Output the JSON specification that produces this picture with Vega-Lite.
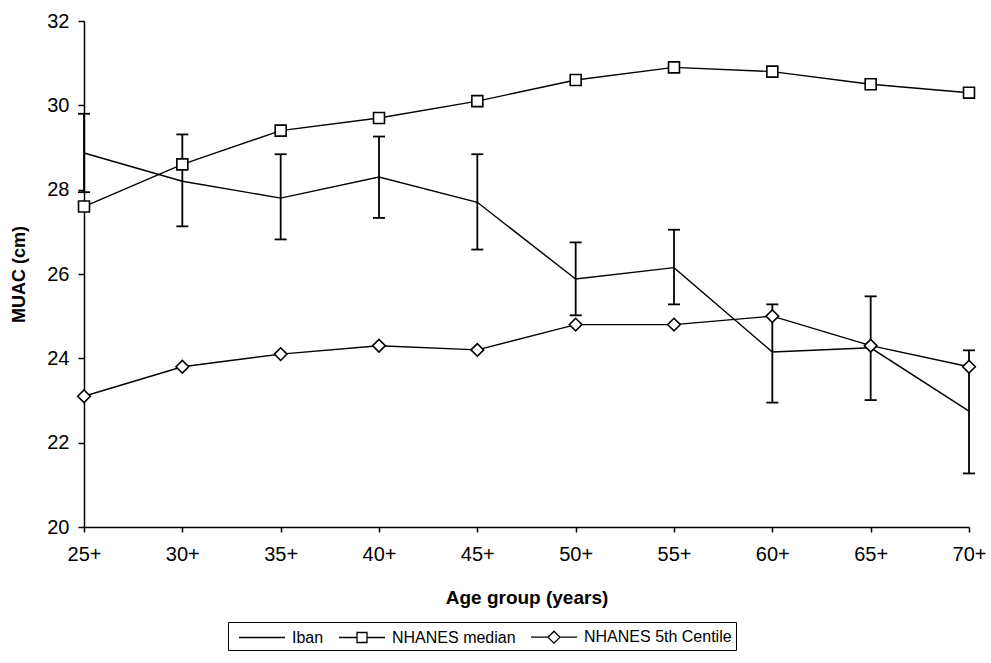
{
  "$schema": "https://vega.github.io/schema/vega-lite/v6.json",
  "width": 885,
  "height": 506,
  "autosize": "none",
  "padding": {"left": 84, "top": 21, "right": 22, "bottom": 136},
  "background": "white",
  "config": {
    "view": {"stroke": null},
    "font": "Liberation Sans",
    "axis": {"domainColor": "black", "domainWidth": 1.5, "tickColor": "black", "tickWidth": 1.5, "labelColor": "black", "titleColor": "black", "grid": false, "labelFont": "Liberation Sans", "titleFont": "Liberation Sans"}
  },
  "data": {
    "values": [
      {"age": "25+", "series": "Iban", "value": 28.87, "lo": 27.94, "hi": 29.8},
      {"age": "30+", "series": "Iban", "value": 28.2, "lo": 27.13, "hi": 29.31},
      {"age": "35+", "series": "Iban", "value": 27.8, "lo": 26.82, "hi": 28.84},
      {"age": "40+", "series": "Iban", "value": 28.3, "lo": 27.33, "hi": 29.26},
      {"age": "45+", "series": "Iban", "value": 27.7, "lo": 26.58, "hi": 28.84},
      {"age": "50+", "series": "Iban", "value": 25.88, "lo": 25.02, "hi": 26.75},
      {"age": "55+", "series": "Iban", "value": 26.15, "lo": 25.28, "hi": 27.05},
      {"age": "60+", "series": "Iban", "value": 24.15, "lo": 22.95, "hi": 25.28},
      {"age": "65+", "series": "Iban", "value": 24.25, "lo": 23.01, "hi": 25.47},
      {"age": "70+", "series": "Iban", "value": 22.75, "lo": 21.27, "hi": 24.19},
      {"age": "25+", "series": "NHANES median", "value": 27.6},
      {"age": "30+", "series": "NHANES median", "value": 28.6},
      {"age": "35+", "series": "NHANES median", "value": 29.4},
      {"age": "40+", "series": "NHANES median", "value": 29.7},
      {"age": "45+", "series": "NHANES median", "value": 30.1},
      {"age": "50+", "series": "NHANES median", "value": 30.6},
      {"age": "55+", "series": "NHANES median", "value": 30.9},
      {"age": "60+", "series": "NHANES median", "value": 30.8},
      {"age": "65+", "series": "NHANES median", "value": 30.5},
      {"age": "70+", "series": "NHANES median", "value": 30.3},
      {"age": "25+", "series": "NHANES 5th Centile", "value": 23.1},
      {"age": "30+", "series": "NHANES 5th Centile", "value": 23.8},
      {"age": "35+", "series": "NHANES 5th Centile", "value": 24.1},
      {"age": "40+", "series": "NHANES 5th Centile", "value": 24.3},
      {"age": "45+", "series": "NHANES 5th Centile", "value": 24.2},
      {"age": "50+", "series": "NHANES 5th Centile", "value": 24.8},
      {"age": "55+", "series": "NHANES 5th Centile", "value": 24.8},
      {"age": "60+", "series": "NHANES 5th Centile", "value": 25.0},
      {"age": "65+", "series": "NHANES 5th Centile", "value": 24.3},
      {"age": "70+", "series": "NHANES 5th Centile", "value": 23.8}
    ]
  },
  "encoding": {
    "x": {
      "field": "age", "type": "ordinal", "sort": null,
      "scale": {"type": "point", "padding": 0},
      "axis": {"title": "Age group (years)", "labelAngle": 0, "labelFontSize": 20, "labelPadding": 12, "tickSize": 5, "titleFontSize": 19, "titleFontWeight": "bold", "titlePadding": 24}
    }
  },
  "layer": [
    {
      "mark": {"type": "line", "color": "black", "strokeWidth": 1.4},
      "encoding": {
        "y": {"field": "value", "type": "quantitative", "scale": {"domain": [20, 32], "nice": false, "zero": false},
          "axis": {"title": "MUAC (cm)", "values": [20, 22, 24, 26, 28, 30, 32], "labelFontSize": 20, "labelPadding": 9, "tickSize": 6, "titleFontSize": 18, "titleFontWeight": "bold", "titlePadding": 18}},
        "detail": {"field": "series"}
      }
    },
    {
      "transform": [{"filter": "datum.hi != null"}],
      "mark": {"type": "rule", "color": "black", "strokeWidth": 1.8},
      "encoding": {
        "y": {"field": "lo", "type": "quantitative"},
        "y2": {"field": "hi"}
      }
    },
    {
      "transform": [{"filter": "datum.lo != null"}],
      "mark": {"type": "tick", "color": "black", "size": 12, "thickness": 1.8, "opacity": 1},
      "encoding": {"y": {"field": "lo", "type": "quantitative"}}
    },
    {
      "transform": [{"filter": "datum.hi != null"}],
      "mark": {"type": "tick", "color": "black", "size": 12, "thickness": 1.8, "opacity": 1},
      "encoding": {"y": {"field": "hi", "type": "quantitative"}}
    },
    {
      "transform": [{"filter": "datum.series != 'Iban'"}],
      "mark": {"type": "point", "filled": false, "fill": "white", "fillOpacity": 1, "stroke": "black", "strokeWidth": 1.6, "opacity": 1},
      "encoding": {
        "y": {"field": "value", "type": "quantitative"},
        "shape": {"field": "series", "type": "nominal",
          "scale": {"domain": ["NHANES median", "NHANES 5th Centile"], "range": ["square", "diamond"]}, "legend": null},
        "size": {"field": "series", "type": "nominal",
          "scale": {"domain": ["NHANES median", "NHANES 5th Centile"], "range": [120, 160]}, "legend": null}
      }
    },
    {
      "mark": {"type": "point", "opacity": 0, "filled": false},
      "encoding": {
        "y": {"field": "value", "type": "quantitative"},
        "shape": {"field": "series", "type": "nominal",
          "scale": {"domain": ["Iban", "NHANES median", "NHANES 5th Centile"],
            "range": ["M-0.4,0H4.2", "M-0.4,0H1.4M2.4,0H4.2M1.4,-0.5H2.4V0.5H1.4Z", "M-0.4,0H1.3M2.5,0H4.2M1.3,0L1.9,-0.6L2.5,0L1.9,0.6Z"]},
          "legend": {"title": null, "orient": "none", "legendX": 144, "legendY": 601, "direction": "horizontal",
            "strokeColor": "black", "padding": 4, "symbolSize": 400, "symbolStrokeColor": "black", "symbolFillColor": "white",
            "symbolStrokeWidth": 1.3, "symbolOpacity": 1, "labelFontSize": 16, "labelColor": "black", "labelFont": "Liberation Sans",
            "labelOffset": 38, "columnPadding": 8}}
      }
    }
  ],
  "resolve": {"scale": {"shape": "independent", "size": "independent"}}
}
